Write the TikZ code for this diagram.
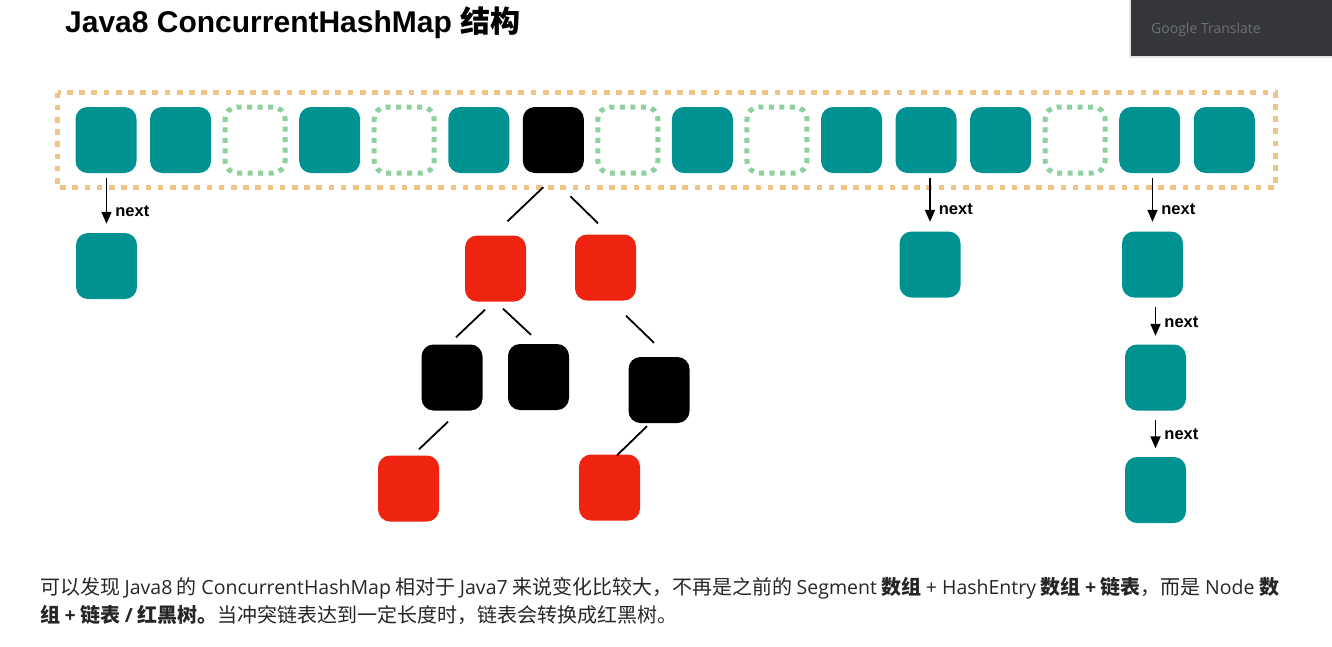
\documentclass[tikz,border=0pt]{standalone}
\usepackage{fontspec}
\setmainfont{Noto Sans CJK SC}
\newfontfamily\headfont{Liberation Sans}
\newfontfamily\cjkfont{Noto Sans CJK SC}
\newfontfamily\gtfont{Open Sans}
\newcommand\enw[1]{{\gtfont\mdseries\fontsize{19.5}{22}\selectfont #1}}
\newcommand\enb[1]{{\gtfont\bfseries\fontsize{19.5}{22}\selectfont #1}}
\usetikzlibrary{arrows.meta,calc}

\definecolor{mapteal}{RGB}{0,145,145}
\definecolor{mapred}{RGB}{238,36,17}
\definecolor{mapgreen}{RGB}{142,208,160}
\definecolor{maporange}{RGB}{240,195,135}
\definecolor{gtgray}{RGB}{53,54,58}
\definecolor{gttext}{RGB}{110,113,117}

\tikzset{
    cell/.style={rectangle, rounded corners=12pt, minimum width=61pt, minimum height=66pt, inner sep=0pt},
    slot/.style={cell, fill=mapteal},
    hole/.style={cell, draw=mapgreen, line width=5pt, dash pattern=on 5pt off 5.5pt, minimum width=60pt, minimum height=66pt},
    blacknode/.style={cell, fill=black},
    rednode/.style={cell, fill=mapred},
    nextarrow/.style={-{Triangle[width=10pt,length=12pt]}, line width=1.8pt},
    nextlbl/.style={anchor=west, inner sep=1pt, xshift=7pt, font=\headfont\bfseries\fontsize{16.5}{18}\selectfont},
    branch/.style={line width=1.8pt},
    textline/.style={anchor=base west, inner sep=0pt, text=black!85, font=\fontsize{20}{23}\selectfont}
}

\begin{document}
\begin{tikzpicture}[x=1pt, y=-1pt]
        \useasboundingbox (0,0) rectangle (1332,646);

        \node[anchor=base west, inner sep=0pt, font=\headfont\bfseries\fontsize{30}{33}\selectfont] (title) at (65,32) {Java8 ConcurrentHashMap {\cjkfont 结构}};

        \fill[gray!20] (1129,0) rectangle (1332,58);
        \fill[gtgray] (1131,0) rectangle (1332,56);
        \node[anchor=base west, inner sep=0pt, text=gttext, font=\gtfont\fontsize{14}{16}\selectfont] (gt) at (1151,33) {Google Translate};

        \draw[maporange, line width=5.5pt, dash pattern=on 5.7pt off 6.5pt] (57.5,92.5) rectangle (1275.5,187.5);

        \foreach \kind [count=\i from 0] in {slot,slot,hole,slot,hole,slot,blacknode,hole,slot,hole,slot,slot,slot,hole,slot,slot} {
            \node[\kind] (c\i) at ({106+74.55*\i},140) {};
        }

        \node[slot] (n0) at (106.5,266) {};
        \node[slot] (n1) at (930,264.5) {};
        \node[slot] (n2) at (1152.5,264.5) {};
        \node[slot] (n3) at (1155.5,377.5) {};
        \node[slot] (n4) at (1155.5,490) {};

        \draw[nextarrow, shorten <=5pt, shorten >=9pt] (n0.north |- c0.south) -- (n0.north) node[nextlbl, pos=0.63] {next};
        \draw[nextarrow, shorten <=5pt, shorten >=9.5pt] (n1.north |- c11.south) -- (n1.north) node[nextlbl, pos=0.62] {next};
        \draw[nextarrow, shorten <=5pt, shorten >=9.5pt] (n2.north |- c14.south) -- (n2.north) node[nextlbl, pos=0.62] {next};
        \draw[nextarrow, shorten <=9.5pt, shorten >=8.5pt] (n3.north |- n2.south) -- (n3.north) node[nextlbl, pos=0.52] {next};
        \draw[nextarrow, shorten <=9.5pt, shorten >=8.5pt] (n4.north |- n3.south) -- (n4.north) node[nextlbl, pos=0.52] {next};

        \node[rednode] (t1) at (495.5,268.5) {};
        \node[rednode] (t2) at (605.5,267.5) {};
        \node[blacknode] (t3) at (452,377.5) {};
        \node[blacknode] (t4) at (538.5,377) {};
        \node[blacknode] (t5) at (659,390) {};
        \node[rednode] (t6) at (408.5,488.5) {};
        \node[rednode] (t7) at (609.5,487.5) {};

        \draw[branch] ($(c6.south)+(-10,14)$) -- ($(t1.north)+(12,-14)$);
        \draw[branch] ($(c6.south)+(17,23)$) -- ($(t2.north)+(-7.5,-11)$);
        \draw[branch] ($(t1.south)+(-10.5,8)$) -- ($(t3.north)+(4,-7)$);
        \draw[branch] ($(t1.south)+(7.5,7)$) -- ($(t4.north)+(-7.5,-9)$);
        \draw[branch] ($(t2.south)+(20.5,15)$) -- ($(t5.north)+(-5,-14)$);
        \draw[branch] ($(t3.south)+(-4,11)$) -- ($(t6.north)+(10.5,-6)$);
        \draw[branch] ($(t5.south)+(-12,3)$) -- ($(t7.north)+(7.5,1)$);

        \node[textline] (line1) at (40,594) {可以发现 \enw{Java8} 的 \enw{ConcurrentHashMap} 相对于 \enw{Java7} 来说变化比较大，不再是之前的 \enw{Segment} \textbf{数组} \enw{+ HashEntry} \textbf{数组} \enb{+} \textbf{链表}，而是 \enw{Node} \textbf{数}};
        \node[textline] (line2) at (40,622) {\textbf{组} \enb{+} \textbf{链表} \enb{/} \textbf{红黑树。}当冲突链表达到一定长度时，链表会转换成红黑树。};
    \end{tikzpicture}
\end{document}
